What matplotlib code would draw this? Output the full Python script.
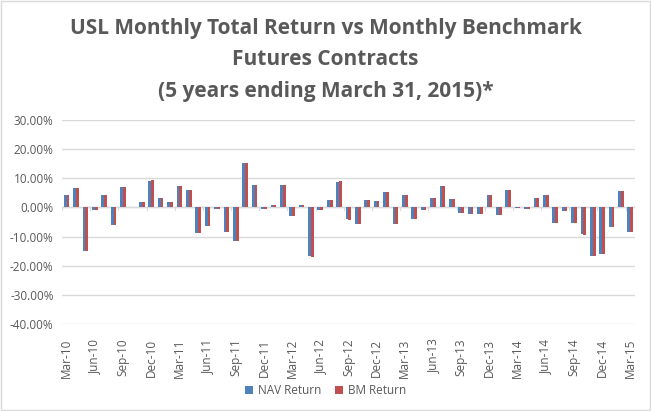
import numpy as np
import matplotlib
matplotlib.use("Agg")
import matplotlib.pyplot as plt
from matplotlib.ticker import FuncFormatter

# monthly returns in percent, Mar-10 .. Mar-15
months = ['Mar-10', 'Apr-10', 'May-10', 'Jun-10', 'Jul-10', 'Aug-10', 'Sep-10', 'Oct-10', 'Nov-10', 'Dec-10',
          'Jan-11', 'Feb-11', 'Mar-11', 'Apr-11', 'May-11', 'Jun-11', 'Jul-11', 'Aug-11', 'Sep-11', 'Oct-11',
          'Nov-11', 'Dec-11', 'Jan-12', 'Feb-12', 'Mar-12', 'Apr-12', 'May-12', 'Jun-12', 'Jul-12', 'Aug-12',
          'Sep-12', 'Oct-12', 'Nov-12', 'Dec-12', 'Jan-13', 'Feb-13', 'Mar-13', 'Apr-13', 'May-13', 'Jun-13',
          'Jul-13', 'Aug-13', 'Sep-13', 'Oct-13', 'Nov-13', 'Dec-13', 'Jan-14', 'Feb-14', 'Mar-14', 'Apr-14',
          'May-14', 'Jun-14', 'Jul-14', 'Aug-14', 'Sep-14', 'Oct-14', 'Nov-14', 'Dec-14', 'Jan-15', 'Feb-15',
          'Mar-15']

nav_return = [4.2, 6.5, -14.9, -0.9, 4.2, -5.9, 7.0, 0.05, 1.9, 9.2,
              3.4, 2.0, 7.4, 6.0, -8.9, -6.4, -0.5, -8.3, -11.5, 15.2,
              7.8, -0.7, 1.0, 7.8, -3.0, 0.8, -16.8, -0.9, 2.7, 8.8,
              -4.1, -5.7, 2.6, 2.2, 5.2, -5.6, 4.1, -4.1, -1.0, 3.1,
              7.2, 3.0, -2.0, -2.3, -2.3, 4.1, -2.7, 5.9, -0.05, -0.5,
              3.3, 4.2, -5.2, -1.3, -5.2, -9.2, -16.5, -16.0, -6.6, 5.6,
              -8.4]

bm_return = [4.2, 6.6, -15.0, -0.9, 4.2, -5.9, 7.1, 0.05, 1.9, 9.3,
             3.4, 2.0, 7.4, 6.0, -8.9, -6.4, -0.5, -8.4, -11.6, 15.3,
             7.8, -0.7, 1.0, 7.8, -3.0, 0.8, -16.9, -0.9, 2.7, 8.9,
             -4.2, -5.7, 2.6, 2.2, 5.2, -5.6, 4.1, -4.1, -1.0, 3.1,
             7.3, 3.0, -2.0, -2.3, -2.3, 4.1, -2.7, 5.9, -0.05, -0.5,
             3.3, 4.2, -5.2, -1.3, -5.2, -9.3, -16.6, -16.1, -6.6, 5.6,
             -8.5]

yticks = [30, 20, 10, 0, -10, -20, -30, -40]

title_lines = ['USL Monthly Total Return vs Monthly Benchmark',
               'Futures Contracts',
               '(5 years ending March 31, 2015)*']

plt.rcParams['font.family'] = ['Open Sans', 'DejaVu Sans']

fig = plt.figure(figsize=(6.51, 4.11), dpi=100)
ax = fig.add_axes([0.0952, 0.2117, 0.8802, 0.4963])

x = np.arange(len(months))
w = 0.3
ax.bar(x - w / 2, nav_return, w, color='#4F81BD', label='NAV Return', zorder=3)
ax.bar(x + w / 2, bm_return, w, color='#C0504D', label='BM Return', zorder=3)

ax.set_xlim(-0.5, len(months) - 0.5)
ax.set_ylim(-40, 30)
ax.set_yticks(yticks)
ax.yaxis.set_major_formatter(FuncFormatter(lambda v, p: '{:.2f}%'.format(v)))
ax.grid(axis='y', color='#D9D9D9', linewidth=1, zorder=0)
ax.axhline(0, color='#D9D9D9', linewidth=1, zorder=1)

ax.set_xticks(x[::3])
ax.set_xticklabels(months[::3], rotation=90)
ax.xaxis.set_ticks_position('none')
ax.tick_params(axis='y', length=0, labelsize=8.5, labelcolor='#595959', pad=6)
ax.tick_params(axis='x', labelsize=8.5, labelcolor='#595959', pad=7)
for s in ax.spines.values():
    s.set_visible(False)

# small ticks on the zero line
for xi in x[::3]:
    ax.plot([xi - 0.5, xi - 0.5], [0, -0.9], color='#D9D9D9', linewidth=0.8, zorder=1)

# title, one text per line so baselines can be placed
for i, line in enumerate(title_lines):
    fig.text(0.5, 0.9165 - i * 0.0758, line, ha='center', va='baseline',
             fontsize=15, fontweight='bold', color='#595959')

leg = fig.legend(loc='center', bbox_to_anchor=(0.5, 0.05), ncol=2, frameon=False,
                 fontsize=8.5, handlelength=0.7, handleheight=0.7, columnspacing=1.2, handletextpad=0.4)
for t in leg.get_texts():
    t.set_color('#595959')

fig.patches.append(plt.Rectangle((0.002, 0.002), 0.996, 0.996, transform=fig.transFigure,
                                 fill=False, edgecolor='#D9D9D9', linewidth=1))

fig.savefig('out.png', dpi=100)
